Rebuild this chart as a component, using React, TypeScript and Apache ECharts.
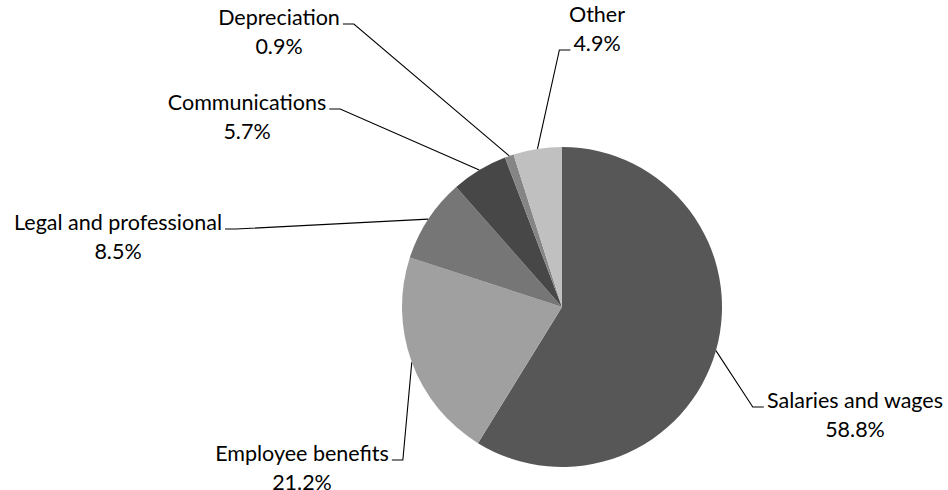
import React, { useEffect, useRef } from "react";
import * as echarts from "echarts";

const categories = [
  "Salaries and wages",
  "Employee benefits",
  "Legal and professional",
  "Communications",
  "Depreciation",
  "Other",
];
const values = [58.8, 21.2, 8.5, 5.7, 0.9, 4.9];
const colors = ["#575757", "#a0a0a0", "#767676", "#474747", "#858585", "#c0c0c0"];

// label layout (centre of the two-line label block), side where the leader attaches, and which line
const labelCenters: [number, number][] = [
  [855, 414],
  [302, 467],
  [118, 236],
  [247, 116],
  [279, 31],
  [597, 28],
];
const attachSide = ["left", "right", "right", "right", "right", "left"];
const attachLine = [0, 0, 0, 0, 0, 1];

const FONT_SIZE = 21.5;
const FONT_FAMILY = "Lato";
const LINE_H = 29;
const CENTER: [number, number] = [562, 307];
const RADIUS = 160;

function measure(text: string): number {
  const c = document.createElement("canvas");
  const ctx = c.getContext("2d");
  if (!ctx) return text.length * FONT_SIZE * 0.5;
  ctx.font = `${FONT_SIZE}px ${FONT_FAMILY}`;
  return ctx.measureText(text).width;
}

export default function App() {
  const ref = useRef<HTMLDivElement>(null);
  useEffect(() => {
    if (!ref.current) return;
    const chart = echarts.init(ref.current, undefined, { renderer: "svg" });
    const total = values.reduce((a, b) => a + b, 0);
    const edgePoint = (i: number): number[] => {
      let before = 0;
      for (let k = 0; k < i; k++) before += values[k];
      const mid = ((before + values[i] / 2) / total) * Math.PI * 2;
      return [CENTER[0] + RADIUS * Math.sin(mid), CENTER[1] - RADIUS * Math.cos(mid)];
    };
    chart.setOption({
      animation: false,
      backgroundColor: "#ffffff",
      series: [
        {
          type: "pie",
          center: CENTER,
          radius: RADIUS,
          startAngle: 90,
          clockwise: true,
          avoidLabelOverlap: false,
          itemStyle: { borderWidth: 0 },
          emphasis: { disabled: true },
          label: {
            show: true,
            position: "outside",
            color: "#000000",
            fontFamily: FONT_FAMILY,
            fontSize: FONT_SIZE,
            lineHeight: LINE_H,
            align: "center",
            formatter: (p: any) => `${p.name}\n${Number(p.value).toFixed(1)}%`,
          },
          labelLine: {
            show: true,
            length: 10,
            length2: 10,
            smooth: false,
            lineStyle: { color: "#000000", width: 1.1 },
          },
          labelLayout: (params: any) => {
            const i = params.dataIndex;
            const [cx, cy] = labelCenters[i];
            const line = attachLine[i];
            const text = line === 0 ? categories[i] : `${values[i].toFixed(1)}%`;
            const w = measure(text);
            const lineCenterY = cy - LINE_H / 2 + line * LINE_H;
            const baseY = lineCenterY + 7.5;
            let endX: number;
            let kneeX: number;
            if (attachSide[i] === "left") {
              endX = cx - w / 2 - 3;
              kneeX = endX - 11;
            } else {
              endX = cx + w / 2 + 3;
              kneeX = endX + 11;
            }
            const p0 =
              params.labelLinePoints && params.labelLinePoints[0]
                ? params.labelLinePoints[0]
                : edgePoint(i);
            return {
              x: cx,
              y: cy,
              align: "center",
              verticalAlign: "middle",
              labelLinePoints: [p0, [kneeX, baseY], [endX, baseY]],
            };
          },
          data: categories.map((name, i) => ({
            name,
            value: values[i],
            itemStyle: { color: colors[i] },
          })),
        },
      ],
    });
    return () => chart.dispose();
  }, []);
  return (
    <div
      ref={ref}
      style={{ position: "fixed", left: 0, top: 0, width: 948, height: 490, background: "#fff" }}
    />
  );
}
